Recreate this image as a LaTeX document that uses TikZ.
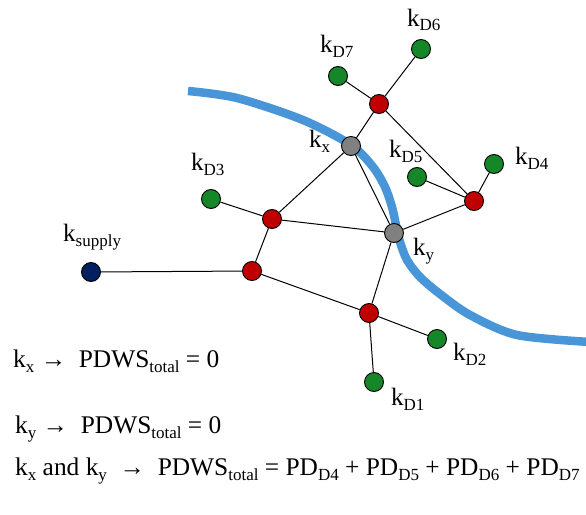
\documentclass[tikz,border=0pt]{standalone}
\usepackage{fontspec}
\setmainfont{Liberation Serif}

\definecolor{zoneblue}{RGB}{72,150,215}
\definecolor{demandgreen}{RGB}{22,135,40}
\definecolor{junctionred}{RGB}{190,0,0}
\definecolor{supplynavy}{RGB}{0,32,96}
\definecolor{valvegray}{RGB}{128,128,128}

% subscript lowered below the baseline
\newcommand\lsub[1]{\raisebox{-5pt}{\fontsize{17}{19}\selectfont #1}}

\tikzset{
  pt/.style={circle, draw=black, line width=0.9pt, minimum size=19pt, inner sep=0pt},
  demand/.style={pt, fill=demandgreen},
  junction/.style={pt, fill=junctionred},
  valve/.style={pt, fill=valvegray},
  source/.style={pt, fill=supplynavy},
  pipe/.style={line width=1pt, black},
  lbl/.style={anchor=base west, inner sep=0pt, font=\fontsize{25}{29}\selectfont},
  eqn/.style={anchor=base west, inner sep=0pt, font=\fontsize{25.4}{29}\selectfont},
}

\begin{document}
\begin{tikzpicture}[x=1pt, y=-1pt]
\useasboundingbox (0,0) rectangle (586,514);

% isolation boundary
\draw[zoneblue, line width=8.5pt] plot[smooth, tension=0.5] coordinates {
  (188,91) (237,98) (303,120) (351,145) (373,167) (385,187) (392,207)
  (396,225) (400,242) (407,260) (420,277) (440,294) (470,315) (517,335) (590,342)};

% network nodes
\node[source]   (sup) at (91,272)  {};
\node[junction] (r1)  at (252,271) {};
\node[junction] (r2)  at (272,219) {};
\node[junction] (r3)  at (379,104) {};
\node[junction] (r4)  at (474,201) {};
\node[junction] (r5)  at (369,313) {};
\node[valve]    (kx)  at (351,146) {};
\node[valve]    (ky)  at (394,233) {};
\node[demand]   (d1)  at (374,382) {};
\node[demand]   (d2)  at (437,339) {};
\node[demand]   (d3)  at (211,199) {};
\node[demand]   (d4)  at (494,164) {};
\node[demand]   (d5)  at (417,177) {};
\node[demand]   (d6)  at (421,49)  {};
\node[demand]   (d7)  at (338,76)  {};

% pipes
\draw[pipe] (sup) -- (r1);
\draw[pipe] (r1) -- (r2);
\draw[pipe] (r1) -- (r5);
\draw[pipe] (r2) -- (d3);
\draw[pipe] (r2) -- (kx);
\draw[pipe] (r2) -- (ky);
\draw[pipe] (kx) -- (r3);
\draw[pipe] (kx) -- (ky);
\draw[pipe] (r3) -- (d7);
\draw[pipe] (r3) -- (d6);
\draw[pipe] (r3) -- (r4);
\draw[pipe] (r4) -- (d5);
\draw[pipe] (r4) -- (d4);
\draw[pipe] (r4) -- (ky);
\draw[pipe] (ky) -- (r5);
\draw[pipe] (r5) -- (d2);
\draw[pipe] (r5) -- (d1);

% node labels
\node[lbl] (lsup) at (63,241)  {k\lsub{supply}};
\node[lbl] (lkx)  at (309,147) {k\lsub{x}};
\node[lbl] (lky)  at (413,255) {k\lsub{y}};
\node[lbl] (ld1)  at (391,405) {k\lsub{D1}};
\node[lbl] (ld2)  at (453,360) {k\lsub{D2}};
\node[lbl] (ld3)  at (191,170) {k\lsub{D3}};
\node[lbl] (ld4)  at (515,164) {k\lsub{D4}};
\node[lbl] (ld5)  at (389,157) {k\lsub{D5}};
\node[lbl] (ld6)  at (407,26)  {k\lsub{D6}};
\node[lbl] (ld7)  at (320,52)  {k\lsub{D7}};

% consequence of closing each valve
\node[eqn] (e1) at (13,367) {k\lsub{x} → \ PDWS\lsub{total} = 0};
\node[eqn] (e2) at (15,433) {k\lsub{y} → \ PDWS\lsub{total} = 0};
\node[eqn] (e3) at (15,475) {k\lsub{x} and k\lsub{y} \ → \ PDWS\lsub{total} = PD\lsub{D4} + PD\lsub{D5} + PD\lsub{D6} + PD\lsub{D7}};
\end{tikzpicture}
\end{document}
